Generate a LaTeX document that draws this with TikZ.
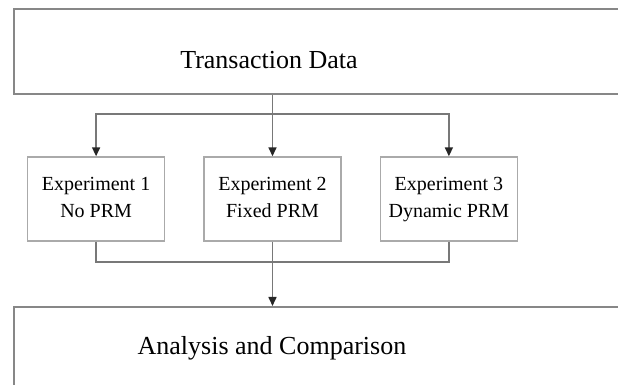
\documentclass[tikz,border=0pt]{standalone}
\usepackage{fontspec}
\setmainfont{Liberation Serif}
\usetikzlibrary{
    arrows.meta,
    positioning
}
\definecolor{BoxGray}{RGB}{135,135,135}
\definecolor{ExpGray}{RGB}{170,170,170}
\definecolor{LineGray}{RGB}{120,120,120}

\begin{document}
\begin{tikzpicture}[
    x=0.5pt,
    y=0.5pt,
    node distance=19pt,
    >={Triangle[width=4pt,length=4.5pt,color=black!85]}
]

\useasboundingbox (0,0) rectangle (618,-385);
\clip (0,0) rectangle (618,-385);

% wide boxes run off the right edge
\node[
    draw=BoxGray,
    line width=0.8pt,
    anchor=north west,
    minimum width=320pt,
    minimum height=42.5pt
] (data) at (13,-8) {};
\node[font=\fontsize{13}{15}\selectfont] (datatext) at (269,-60) {Transaction Data};

\node[
    draw=ExpGray,
    line width=0.7pt,
    minimum width=68.5pt,
    minimum height=42pt,
    align=center,
    font=\fontsize{10}{13.5}\selectfont
] (exp2) at (272.5,-199) {Experiment 2\strut\\Fixed PRM\strut};

\node[
    draw=ExpGray,
    line width=0.7pt,
    minimum width=68.5pt,
    minimum height=42pt,
    align=center,
    font=\fontsize{10}{13.5}\selectfont,
    left=of exp2
] (exp1) {Experiment 1\strut\\No PRM\strut};

\node[
    draw=ExpGray,
    line width=0.7pt,
    minimum width=68.5pt,
    minimum height=42pt,
    align=center,
    font=\fontsize{10}{13.5}\selectfont,
    right=of exp2
] (exp3) {Experiment 3\strut\\Dynamic PRM\strut};

\node[
    draw=BoxGray,
    line width=0.8pt,
    anchor=north west,
    minimum width=320pt,
    minimum height=50pt
] (result) at (13,-306) {};
\node[font=\fontsize{13}{15}\selectfont] (resulttext) at (272,-348) {Analysis and Comparison};

\coordinate (split) at (272.5,-114);
\coordinate (merge) at (272.5,-262);

\draw[->, draw=LineGray, line width=0.8pt] (exp2.north |- data.south) -- (exp2.north);
\draw[->, draw=LineGray, line width=0.8pt] (split) -| (exp1.north);
\draw[->, draw=LineGray, line width=0.8pt] (split) -| (exp3.north);
\draw[draw=LineGray, line width=0.8pt] (exp1.south) |- (merge);
\draw[draw=LineGray, line width=0.8pt] (exp3.south) |- (merge);
\draw[->, draw=LineGray, line width=0.8pt] (exp2.south) -- (exp2.south |- result.north);

\end{tikzpicture}
\end{document}
